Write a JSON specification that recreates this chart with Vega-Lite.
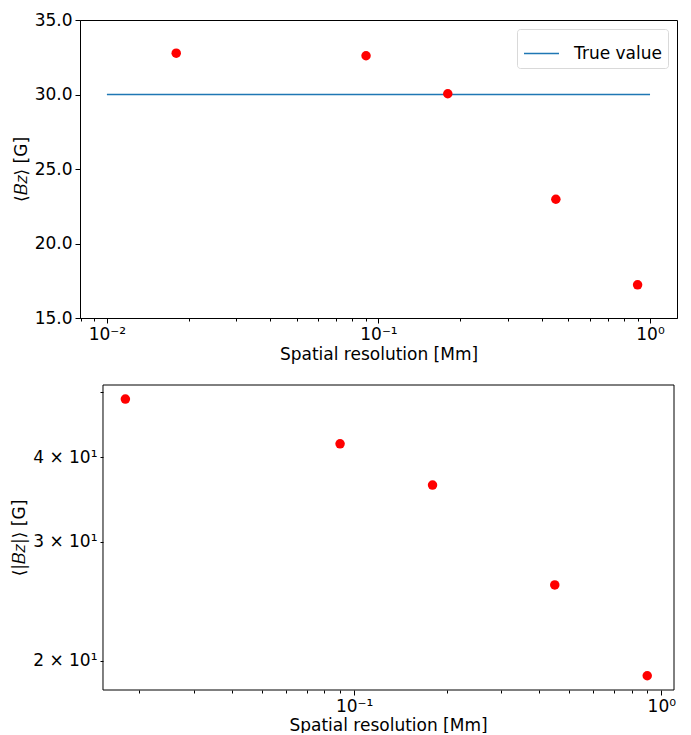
{
  "$schema": "https://vega.github.io/schema/vega-lite/v6.json",
  "padding": {"left": 10, "top": 10, "right": 5, "bottom": 0},
  "background": "white",
  "datasets": {
    "top": [
      {"res": 0.018, "bz": 32.77},
      {"res": 0.09, "bz": 32.6},
      {"res": 0.18, "bz": 30.05},
      {"res": 0.45, "bz": 22.97},
      {"res": 0.9, "bz": 17.23}
    ],
    "line": [
      {"res": 0.01, "bz": 30, "series": "True value"},
      {"res": 1, "bz": 30, "series": "True value"}
    ],
    "bottom": [
      {"res": 0.018, "absbz": 48.8},
      {"res": 0.09, "absbz": 41.9},
      {"res": 0.18, "absbz": 36.4},
      {"res": 0.45, "absbz": 25.9},
      {"res": 0.9, "absbz": 19.0}
    ]
  },
  "vconcat": [
    {
      "width": 597,
      "height": 298,
      "layer": [
        {
          "data": {"name": "line"},
          "mark": {"type": "line", "strokeWidth": 1.5},
          "encoding": {
            "x": {"field": "res", "type": "quantitative"},
            "y": {"field": "bz", "type": "quantitative"},
            "color": {
              "field": "series",
              "type": "nominal",
              "scale": {"range": ["#1f77b4"]},
              "legend": {
                "title": null,
                "orient": "top-right",
                "offset": 9,
                "symbolType": "stroke",
                "symbolSize": 1225,
                "symbolStrokeWidth": 1.5,
                "labelFontSize": 17,
                "labelColor": "black",
                "labelOffset": 14,
                "padding": 6,
                "strokeColor": "#d9d9d9",
                "fillColor": "white",
                "cornerRadius": 3
              }
            }
          }
        },
        {
          "data": {"name": "top"},
          "mark": {"type": "circle", "size": 90, "opacity": 1, "color": "#ff0000"},
          "encoding": {
            "x": {
              "field": "res",
              "type": "quantitative",
              "scale": {"type": "log", "domain": [0.00796, 1.257], "nice": false},
              "axis": {
                "title": "Spatial resolution [Mm]",
                "values": [0.008, 0.009, 0.01, 0.02, 0.03, 0.04, 0.05, 0.06, 0.07, 0.08, 0.09, 0.1, 0.2, 0.3, 0.4, 0.5, 0.6, 0.7, 0.8, 0.9, 1],
                "labelExpr": "datum.value == 0.01 ? '10⁻²' : datum.value == 0.1 ? '10⁻¹' : datum.value == 1 ? '10⁰' : ''",
                "tickSize": {"condition": {"test": "datum.value == 0.01 || datum.value == 0.1 || datum.value == 1", "value": 5}, "value": 3},
                "labelOverlap": false,
                "labelFlush": false
              }
            },
            "y": {
              "field": "bz",
              "type": "quantitative",
              "scale": {"domain": [15, 35], "nice": false, "zero": false},
              "axis": {
                "title": "⟨𝐵𝑧⟩ [G]",
                "values": [15, 17.5, 20, 22.5, 25, 27.5, 30, 32.5, 35],
                "format": ".1f",
                "labelOverlap": false,
                "labelFlush": false
              }
            }
          }
        }
      ],
      "resolve": {"legend": {"color": "independent"}}
    },
    {
      "width": 594,
      "height": 305,
      "view": {"stroke": null},
      "layer": [
        {
          "data": {"values": [{}]},
          "mark": {"type": "rect", "filled": false, "stroke": "black", "strokeWidth": 1},
          "encoding": {
            "x": {"datum": 0.01522, "type": "quantitative"},
            "x2": {"datum": 1.10},
            "y": {"datum": 18.1, "type": "quantitative"},
            "y2": {"datum": 51.2}
          }
        },
        {
          "data": {"name": "bottom"},
          "mark": {"type": "circle", "size": 90, "opacity": 1, "color": "#ff0000"},
          "encoding": {
            "x": {
              "field": "res",
              "type": "quantitative",
              "scale": {"type": "log", "domain": [0.01281, 1.10], "nice": false},
              "axis": {
                "title": "Spatial resolution [Mm]",
                "titleX": 308,
                "titlePadding": 3,
                "domain": false,
                "values": [0.02, 0.03, 0.04, 0.05, 0.06, 0.07, 0.08, 0.09, 0.1, 0.2, 0.3, 0.4, 0.5, 0.6, 0.7, 0.8, 0.9, 1],
                "labelExpr": "datum.value == 0.1 ? '10⁻¹' : datum.value == 1 ? '10⁰' : ''",
                "tickSize": {"condition": {"test": "datum.value == 0.1 || datum.value == 1", "value": 5}, "value": 3},
                "labelOverlap": false,
                "labelFlush": false
              }
            },
            "y": {
              "field": "absbz",
              "type": "quantitative",
              "scale": {"type": "log", "domain": [18.1, 51.2], "nice": false},
              "axis": {
                "title": "⟨|𝐵𝑧|⟩ [G]",
                "offset": -23,
                "domain": false,
                "values": [20, 30, 40, 50],
                "labelExpr": "datum.value == 20 ? '2 × 10¹' : datum.value == 30 ? '3 × 10¹' : datum.value == 40 ? '4 × 10¹' : ''",
                "tickSize": 3,
                "labelOverlap": false,
                "labelFlush": false
              }
            }
          }
        }
      ]
    }
  ],
  "spacing": 19,
  "config": {
    "font": "DejaVu Sans",
    "view": {"stroke": "black", "strokeWidth": 1},
    "axis": {
      "grid": false,
      "domainColor": "black",
      "tickColor": "black",
      "labelColor": "black",
      "titleColor": "black",
      "labelFont": "DejaVu Sans",
      "titleFont": "DejaVu Sans",
      "labelFontSize": 17,
      "titleFontSize": 17,
      "titleFontWeight": "normal",
      "labelPadding": 3,
      "titlePadding": 4
    }
  }
}
